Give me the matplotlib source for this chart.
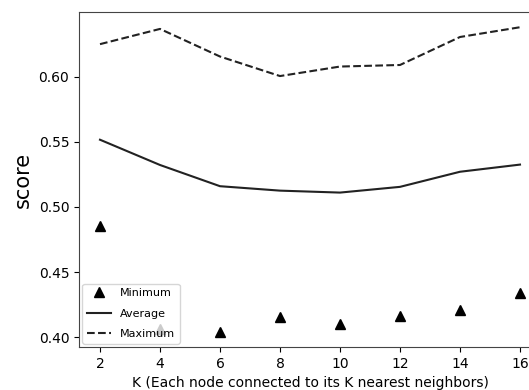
import numpy as np
from matplotlib import pyplot as plt

k = [2, 4, 6, 8, 10, 12, 14, 16]
score_min = [0.4855, 0.406, 0.4041, 0.4158, 0.4103, 0.416, 0.4207, 0.434]
score_avg = [0.5516, 0.5322, 0.5159, 0.5125, 0.511, 0.5154, 0.527, 0.5325]
score_max = [0.625, 0.6367, 0.6155, 0.6005, 0.6078, 0.609, 0.6305, 0.638]

fig = plt.figure(figsize=(5.29, 3.9), dpi=100)
# the original picture is cut on the right, so the axes run past the edge
ax = fig.add_axes([79 / 529, 1 - 347 / 390, (541 - 79) / 529, (347 - 12) / 390])

ax.plot(k, score_min, '^', color='black', markersize=6.5, label='Minimum')
ax.plot(k, score_avg, '-', color='#222222', linewidth=1.5, label='Average')
ax.plot(k, score_max, '--', color='#222222', linewidth=1.5, label='Maximum')

ax.set_xticks(k)
ax.set_yticks([0.40, 0.45, 0.50, 0.55, 0.60])
ax.tick_params(labelsize=10)
for s in ax.spines.values():
    s.set_color('#444444')
ax.set_xlabel('K (Each node connected to its K nearest neighbors)', fontsize=10)
ax.set_ylabel('score', fontsize=15)
ax.legend(loc='lower left', fontsize=8, numpoints=1, labelspacing=0.95,
          handlelength=2.2, borderaxespad=0.3)

fig.savefig('out.png', dpi=100)
